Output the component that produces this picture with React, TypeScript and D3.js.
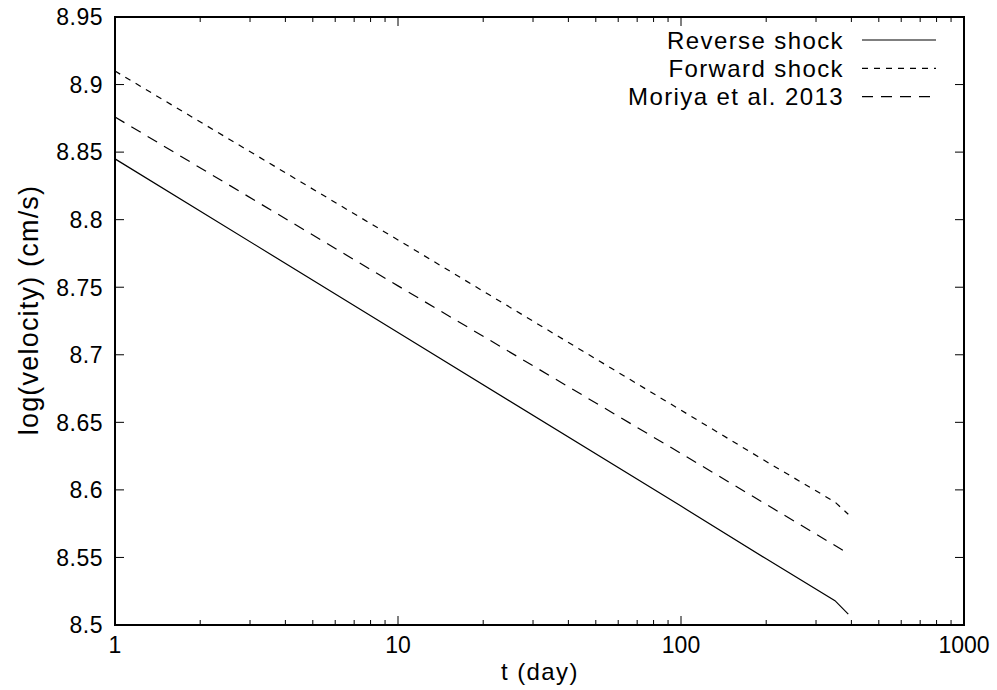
import React from "react";
import * as d3 from "d3";

// Shock velocity evolution (log cm/s) against time since explosion (days)
const reverseT = [1, 10, 100, 200, 350, 390];
const reverseV = [8.845, 8.7165, 8.588, 8.549, 8.518, 8.508];
const forwardT = [1, 10, 100, 200, 350, 390];
const forwardV = [8.910, 8.785, 8.659, 8.621, 8.591, 8.582];
const moriyaT = [1, 10, 100, 390];
const moriyaV = [8.876, 8.751, 8.627, 8.553];

const yTicks = [8.5, 8.55, 8.6, 8.65, 8.7, 8.75, 8.8, 8.85, 8.9, 8.95];
const xMajor = [1, 10, 100, 1000];

const seriesNames = ["Reverse shock", "Forward shock", "Moriya et al. 2013"];
const dashes = ["none", "6,6", "11,8"];

const W = 997;
const H = 690;
const M = { left: 115, right: 964, top: 17, bottom: 625 };
const FONT = "'Liberation Sans', Arial, Helvetica, sans-serif";

export default function App() {
  const x = d3.scaleLog().domain([1, 1000]).range([M.left, M.right]);
  const y = d3.scaleLinear().domain([8.5, 8.95]).range([M.bottom, M.top]);
  const line = d3
    .line<[number, number]>()
    .x((d) => x(d[0]))
    .y((d) => y(d[1]));

  const series: [number, number][][] = [
    reverseT.map((t, i) => [t, reverseV[i]]),
    forwardT.map((t, i) => [t, forwardV[i]]),
    moriyaT.map((t, i) => [t, moriyaV[i]]),
  ];

  const minor: number[] = [];
  for (let dec = 1; dec < 1000; dec *= 10) {
    for (let k = 2; k <= 9; k++) minor.push(dec * k);
  }

  const majorLen = 9;
  const minorLen = 5;

  return (
    <svg
      width={W}
      height={H}
      style={{ position: "absolute", left: 0, top: 0, background: "#fff" }}
      fontFamily={FONT}
    >
      <rect x={0} y={0} width={W} height={H} fill="#fff" />
      {/* y ticks, mirrored on both sides */}
      {yTicks.map((v) => (
        <g key={"y" + v}>
          <line x1={M.left} x2={M.left + majorLen} y1={y(v)} y2={y(v)} stroke="#000" strokeWidth={1} />
          <line x1={M.right} x2={M.right - majorLen} y1={y(v)} y2={y(v)} stroke="#000" strokeWidth={1} />
          <text x={M.left - 12} y={y(v)} dy="0.36em" textAnchor="end" fontSize={23} letterSpacing={0.5}>
            {d3.format("~g")(v)}
          </text>
        </g>
      ))}
      {/* x ticks */}
      {xMajor.map((v) => (
        <g key={"x" + v}>
          <line x1={x(v)} x2={x(v)} y1={M.bottom} y2={M.bottom - majorLen} stroke="#000" strokeWidth={1} />
          <line x1={x(v)} x2={x(v)} y1={M.top} y2={M.top + majorLen} stroke="#000" strokeWidth={1} />
          <text x={x(v)} y={M.bottom + 28} textAnchor="middle" fontSize={23}>
            {v}
          </text>
        </g>
      ))}
      {minor.map((v) => (
        <g key={"m" + v}>
          <line x1={x(v)} x2={x(v)} y1={M.bottom} y2={M.bottom - minorLen} stroke="#000" strokeWidth={1} />
          <line x1={x(v)} x2={x(v)} y1={M.top} y2={M.top + minorLen} stroke="#000" strokeWidth={1} />
        </g>
      ))}

      {/* curves */}
      {series.map((s, i) => (
        <path
          key={"s" + i}
          d={line(s) || ""}
          fill="none"
          stroke="#000"
          strokeWidth={1.2}
          strokeDasharray={dashes[i]}
        />
      ))}

      {/* frame */}
      <rect
        x={M.left}
        y={M.top}
        width={M.right - M.left}
        height={M.bottom - M.top}
        fill="none"
        stroke="#000"
        strokeWidth={2}
      />

      {/* legend */}
      {seriesNames.map((name, i) => {
        const base = 48.5 + i * 28.3;
        return (
          <g key={"l" + i}>
            <text x={844} y={base} textAnchor="end" fontSize={24} letterSpacing={1.4}>
              {name}
            </text>
            <line
              x1={862}
              x2={936}
              y1={base - 8.5}
              y2={base - 8.5}
              stroke="#000"
              strokeWidth={1.2}
              strokeDasharray={dashes[i]}
            />
          </g>
        );
      })}

      {/* axis titles */}
      <text x={540} y={680} textAnchor="middle" fontSize={24} letterSpacing={1.4}>
        t (day)
      </text>
      <text
        transform={`translate(38, 310) rotate(-90)`}
        textAnchor="middle"
        fontSize={27}
        letterSpacing={1.2}
      >
        log(velocity) (cm/s)
      </text>
    </svg>
  );
}
